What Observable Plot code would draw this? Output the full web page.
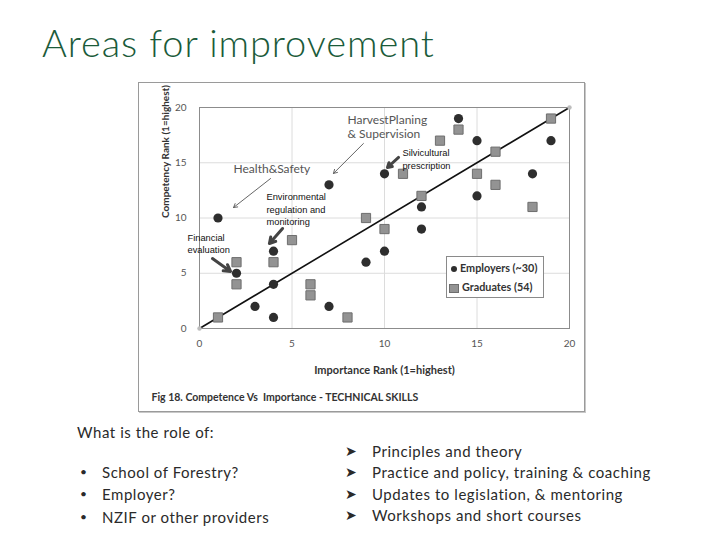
<!DOCTYPE html>
<html>
<head>
<meta charset="utf-8">
<script src="https://cdn.jsdelivr.net/npm/d3@7"></script>
<script src="https://cdn.jsdelivr.net/npm/@observablehq/plot@0.6"></script>
<style>
  html, body { margin: 0; padding: 0; background: #fff; }
  #slide { position: relative; width: 720px; height: 540px; overflow: hidden; font-family: Lato, sans-serif; color: #222; }
  #slide svg { position: absolute; left: 0; top: 0; }
  .abs { position: absolute; white-space: nowrap; }
  .title { font-size: 38px; line-height: 44px; font-weight: 300; color: #1b5b3a; letter-spacing: 0.9px; }
  .body { font-size: 15px; line-height: 18px; color: #2a2a2a; letter-spacing: 0.55px; }
  #frame { position: absolute; left: 138px; top: 82px; width: 445px; height: 328px; border: 1px solid #9a9a9a; box-shadow: 1px 1px 0 #c8c8c8; }
  #legend { position: absolute; left: 446px; top: 256px; width: 96px; height: 40px; border: 1px solid #8a8a8a; background: #fff; font-family: Lato, sans-serif; font-weight: 700; font-size: 10.8px; color: #333; }
  #legend .row { position: absolute; left: 2px; height: 14px; line-height: 14px; }
  #legend .sym { display: inline-block; vertical-align: middle; margin-right: 3px; }
</style>
</head>
<body>
<div id="slide">
  <div id="frame"></div>
</div>
<script>
// ---- Data ----
const employers = [
  [1, 10], [7, 13], [10, 14], [14, 19], [15, 17], [19, 17], [18, 14], [15, 12],
  [12, 11], [12, 9], [4, 7], [10, 7], [9, 6], [2, 5], [4, 4], [3, 2], [4, 1], [7, 2]
];
const graduates = [
  [19, 19], [14, 18], [13, 17], [16, 16], [11, 14], [15, 14], [16, 13], [12, 12],
  [18, 11], [9, 10], [10, 9], [5, 8], [2, 6], [4, 6], [2, 4], [6, 4], [6, 3], [1, 1], [8, 1]
];
const parityLine = [0, 20];
const tickValues = [0, 5, 10, 15, 20];
const gridValues = [5, 10, 15];
const xLabel = "Importance Rank (1=highest)";
const yLabel = "Competency Rank (1=highest)";
const figCaption = "Fig 18. Competence Vs  Importance - TECHNICAL SKILLS";
const seriesNames = ["Employers (~30)", "Graduates (54)"];

// annotations (label, position in data units)
const calloutsLarge = [
  {label: "HarvestPlaning\n& Supervision", x: 8.0, y: 18.25},
  {label: "Health&Safety", x: 1.84, y: 14.48}
];
const calloutsSmall = [
  {label: "Silvicultural\nprescription", x: 10.97, y: 15.38},
  {label: "Environmental\nregulation and\nmonitoring", x: 3.62, y: 10.83},
  {label: "Financial\nevaluation", x: -0.65, y: 7.74}
];
const thinArrows = [
  {x1: 8.86, y1: 16.74, x2: 7.24, y2: 14.03},
  {x1: 3.84, y1: 13.57, x2: 1.84, y2: 10.95}
];
const thickArrows = [
  {x1: 10.76, y1: 15.48, x2: 10.16, y2: 14.57},
  {x1: 4.49, y1: 9.05, x2: 3.78, y2: 7.69},
  {x1: 0.70, y1: 6.33, x2: 1.68, y2: 5.16}
];

const slideTitle = "Areas for improvement";
const question = "What is the role of:";
const roles = ["School of Forestry?", "Employer?", "NZIF or other providers"];
const answers = ["Principles and theory", "Practice and policy, training & coaching", "Updates to legislation, & mentoring", "Workshops and short courses"];

// ---- Chart ----
const chartFont = "Lato, sans-serif";
const chart = Plot.plot({
  width: 720,
  height: 540,
  marginLeft: 199,
  marginRight: 151,
  marginTop: 107,
  marginBottom: 212,
  style: {fontFamily: chartFont, background: "transparent", overflow: "visible"},
  x: {domain: [0, 20]},
  y: {domain: [0, 20]},
  marks: [
    Plot.gridX(gridValues, {stroke: "#dcdcdc", strokeOpacity: 1}),
    Plot.gridY(gridValues, {stroke: "#dcdcdc", strokeOpacity: 1}),
    Plot.frame({stroke: "#8c8c8c"}),
    Plot.axisX({ticks: tickValues, tickSize: 0, tickPadding: 11, fontSize: 10, color: "#555", label: null}),
    Plot.axisY({ticks: tickValues, tickSize: 0, tickPadding: 13, fontSize: 10, color: "#555", label: null}),
    Plot.line(parityLine.map(v => [v, v]), {stroke: "#111", strokeWidth: 1.6}),
    Plot.dot(parityLine.map(v => [v, v]), {r: 2.2, fill: "#bdbdbd"}),
    Plot.dot(graduates, {symbol: "square", r: 5.2, fill: "#939393", stroke: "#6e6e6e", strokeWidth: 1}),
    Plot.dot(employers, {symbol: "circle", r: 4.6, fill: "#2e2e2e"}),
    Plot.arrow(thinArrows, {x1: "x1", y1: "y1", x2: "x2", y2: "y2", bend: 0, stroke: "#555", strokeWidth: 0.9, headLength: 7}),
    Plot.arrow(thickArrows, {x1: "x1", y1: "y1", x2: "x2", y2: "y2", bend: 0, stroke: "#444", strokeWidth: 3, headLength: 9}),
    Plot.text(calloutsLarge, {x: "x", y: "y", text: "label", textAnchor: "start", lineAnchor: "middle", lineHeight: 1.15, fontSize: 12, fill: "#555", fontFamily: chartFont}),
    Plot.text(calloutsSmall, {x: "x", y: "y", text: "label", textAnchor: "start", lineAnchor: "middle", lineHeight: 1.33, fontSize: 9.3, fill: "#111", fontFamily: "Liberation Sans, Arial, sans-serif", style: {letterSpacing: "0.4px"}}),
    Plot.text([xLabel], {frameAnchor: "bottom", dy: 42, lineAnchor: "middle", fontSize: 11, fontWeight: "bold", fill: "#333"}),
    Plot.text([yLabel], {frameAnchor: "left", dx: -34, rotate: -90, lineAnchor: "middle", fontSize: 10, fontWeight: "bold", fill: "#333"}),
    Plot.text([figCaption], {frameAnchor: "bottom-left", dx: -48, dy: 69, textAnchor: "start", lineAnchor: "middle", fontSize: 10.5, fontWeight: "bold", fill: "#333"})
  ]
});
const slide = document.getElementById("slide");
slide.appendChild(chart);

// ---- Legend (inside chart) ----
const legend = document.createElement("div");
legend.id = "legend";
legend.innerHTML =
  `<div class="row" style="top:4px"><span class="sym" style="width:6px;height:6px;border-radius:50%;background:#2e2e2e;margin-left:2px"></span>${seriesNames[0]}</div>` +
  `<div class="row" style="top:23px"><span class="sym" style="width:8px;height:7px;background:#939393;border:0.5px solid #6e6e6e"></span>${seriesNames[1]}</div>`;
slide.appendChild(legend);

// ---- Slide text ----
function addText(txt, cls, left, top, extra) {
  const d = document.createElement("div");
  d.className = "abs " + cls;
  d.style.left = left + "px";
  d.style.top = top + "px";
  if (extra) Object.assign(d.style, extra);
  d.textContent = txt;
  slide.appendChild(d);
  return d;
}
addText(slideTitle, "title", 42, 20);
addText(question, "body", 77, 423);
const roleTops = [463, 485, 508];
roles.forEach((r, i) => {
  addText("•", "body", 80, roleTops[i], {fontSize: "12px"});
  addText(r, "body", 102, roleTops[i]);
});
const answerTops = [442, 463, 485, 506];
answers.forEach((a, i) => {
  addText("➤", "body", 345, answerTops[i], {fontFamily: "DejaVu Sans, sans-serif", fontSize: "14px", letterSpacing: "0"});
  addText(a, "body", 372, answerTops[i]);
});
</script>
</body>
</html>
